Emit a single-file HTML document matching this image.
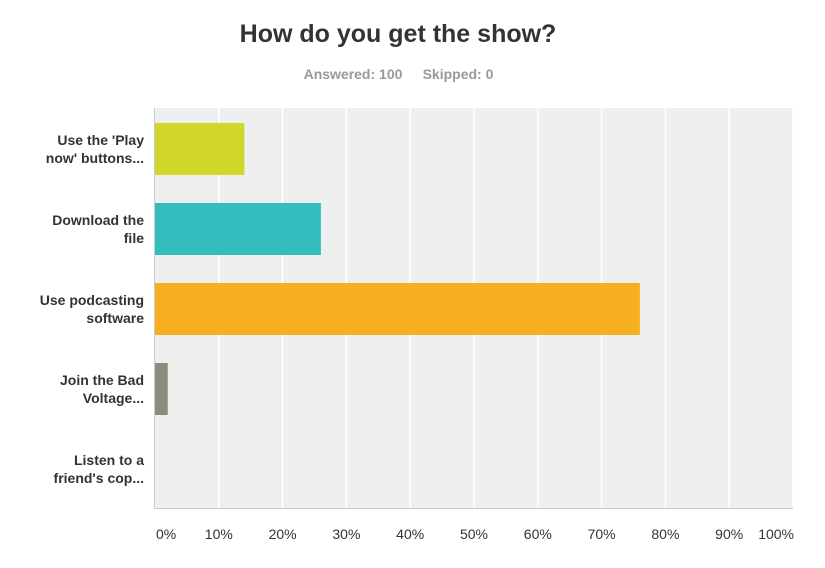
<!DOCTYPE html>
<html><head><meta charset="utf-8"><style>
body{margin:0;background:#fff;font-family:"Liberation Sans",sans-serif;}
#wrap{position:relative;width:825px;height:568px;overflow:hidden;}
</style></head><body>
<div id="wrap">
<svg id="chart" width="825" height="568">
<text x="398" y="42" text-anchor="middle" font-size="25" font-weight="bold" fill="#333">How do you get the show?</text>
<text x="353" y="79" text-anchor="middle" font-size="14" font-weight="bold" fill="#999">Answered: 100</text>
<text x="458" y="79" text-anchor="middle" font-size="14" font-weight="bold" fill="#999">Skipped: 0</text>
<rect x="155" y="108" width="638" height="400" fill="#efefef"/>
<g id="grid"></g><g id="bars"></g><g id="labels"></g><g id="ticks"></g>
<line x1="154.5" y1="108" x2="154.5" y2="509" stroke="#ccc"/>
<line x1="154" y1="508.5" x2="793" y2="508.5" stroke="#ccc"/>
</svg>
</div>
<script>
const categories=[["Use the 'Play","now' buttons..."],["Download the","file"],["Use podcasting","software"],["Join the Bad","Voltage..."],["Listen to a","friend's cop..."]];
const values=[14,26,76,2,0];
const colors=["#d0d62a","#33bdbf","#f6b01f","#8c8c7c","#999"];
const tickValues=[0,10,20,30,40,50,60,70,80,90,100];
const tickLabels=["0%","10%","20%","30%","40%","50%","60%","70%","80%","90%","100%"];
const NS="http://www.w3.org/2000/svg";
const x0=155,x1=793,y0=108,band=80;
const xs=v=>x0+(x1-x0)*v/100;
function mk(tag,attrs,parent){const e=document.createElementNS(NS,tag);for(const k in attrs)e.setAttribute(k,attrs[k]);document.getElementById(parent).appendChild(e);return e;}
tickValues.forEach((t,i)=>{
 if(t>0){const g=mk('line',{x1:xs(t),x2:xs(t),y1:y0,y2:508,stroke:'#fff','stroke-width':1.5},'grid');
 
 }
 let anchor='middle',x=xs(t);
 if(i===0){anchor='start';x=xs(t)+1;}
 if(i===tickValues.length-1){anchor='end';x=xs(t)+1;}
 const tx=mk('text',{x:x,y:539,'text-anchor':anchor,'font-size':14,fill:'#333'},'ticks');
 tx.textContent=tickLabels[i];
 
 
});
values.forEach((v,i)=>{
 const yb=y0+band*i+15;
 if(v>0){const r=mk('rect',{x:x0,y:yb,width:xs(v)-x0,height:52,fill:colors[i]},'bars');
 
 }
 categories[i].forEach((line,j)=>{
  const t=mk('text',{x:144,y:yb+22+j*18,'text-anchor':'end','font-size':14,'font-weight':'bold',fill:'#333'},'labels');
  t.textContent=line;
  
  
 });
});
</script>
</body></html>
